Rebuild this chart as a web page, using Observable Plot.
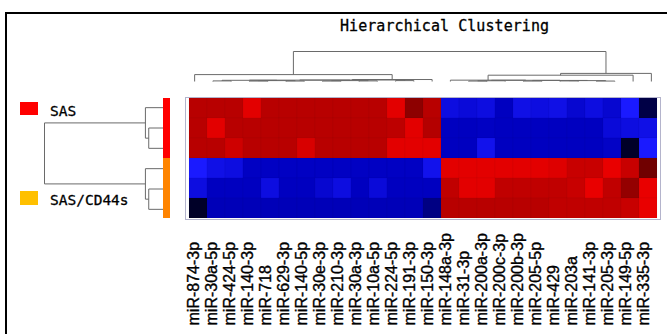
<!DOCTYPE html>
<html>
<head>
<meta charset="utf-8">
<script src="https://cdn.jsdelivr.net/npm/d3@7"></script>
<script src="https://cdn.jsdelivr.net/npm/@observablehq/plot@0.6"></script>
<style>
  html, body { margin: 0; padding: 0; background: #fff; }
  #chart { position: relative; width: 667px; height: 334px; overflow: hidden; background: #fff; }
  #chart svg { position: absolute; left: 0; top: 0; }
  .frame { position: absolute; left: 5px; top: 12px; width: 720px; height: 400px; border: 2px solid #000; box-sizing: border-box; }
  .title { position: absolute; left: 340px; top: 19px; font-family: "DejaVu Sans Mono", monospace; font-size: 15px; line-height: 15px; letter-spacing: 0.06px; color: #000; white-space: nowrap; -webkit-text-stroke: 0.3px #000; }
  .sw { position: absolute; left: 20px; width: 18px; }
  .lt { position: absolute; left: 50px; font-family: "DejaVu Sans Mono", monospace; font-size: 14.5px; line-height: 14.5px; color: #000; white-space: nowrap; -webkit-text-stroke: 0.3px #000; }
</style>
</head>
<body>
<div id="chart">
  <div class="frame"></div>
</div>
<script>
// ---- data ----
const columns = ["miR-874-3p","miR-30a-5p","miR-424-5p","miR-140-3p","miR-718","miR-629-3p","miR-140-5p","miR-30e-3p","miR-210-3p","miR-30a-3p","miR-10a-5p","miR-224-5p","miR-191-3p","miR-150-3p","miR-148a-3p","miR-31-3p","miR-200a-3p","miR-200c-3p","miR-200b-3p","miR-205-5p","miR-429","miR-203a","miR-141-3p","miR-205-3p","miR-149-5p","miR-335-3p"];
const samples = ["SAS-1","SAS-2","SAS-3","SAS/CD44s-1","SAS/CD44s-2","SAS/CD44s-3"];
const sampleGroups = ["SAS","SAS","SAS","SAS/CD44s","SAS/CD44s","SAS/CD44s"];
const groupNames = ["SAS","SAS/CD44s"];
const groupBarColors = ["#ff0000","#ff8400"];
const legendColors = ["#ff0000","#ffc000"];

const valuesSAS1 = [2.0,2.0,2.0,1.2,2.0,2.0,2.0,2.0,2.0,2.0,2.0,1.2,2.6,2.0,-1.5,-1.6,-1.5,-2.0,-1.4,-1.5,-1.4,-1.75,-1.5,-1.75,-1.0,-2.8];
const valuesSAS2 = [2.0,1.2,2.0,2.0,2.0,2.0,2.0,2.0,2.0,2.0,2.0,1.9,1.2,2.05,-2.0,-2.0,-1.95,-2.0,-2.0,-2.0,-2.0,-2.0,-2.0,-1.6,-1.5,-1.4];
const valuesSAS3 = [2.0,2.0,1.6,2.0,2.0,2.0,1.4,2.0,2.0,2.0,2.0,1.2,1.2,1.2,-2.0,-2.0,-1.3,-2.0,-2.0,-2.0,-2.0,-2.0,-2.0,-1.9,-3.0,-1.0];
const valuesCD1  = [-1.0,-1.4,-1.5,-1.95,-1.95,-1.95,-1.95,-1.95,-1.95,-1.95,-1.95,-1.95,-1.95,-1.3,1.2,1.2,1.2,1.2,1.2,1.2,1.3,1.7,1.7,1.1,1.7,3.0];
const valuesCD2  = [-1.5,-2.0,-2.0,-2.0,-1.5,-2.0,-2.0,-1.75,-1.5,-2.0,-1.6,-2.0,-2.0,-2.0,1.85,1.2,1.2,1.85,1.85,1.85,1.85,1.7,1.1,1.85,2.5,1.1];
const valuesCD3  = [-3.0,-2.05,-2.05,-2.05,-2.05,-2.05,-2.05,-2.05,-2.05,-2.05,-2.05,-2.05,-2.05,-2.4,2.0,2.0,2.0,2.0,2.0,2.0,1.85,1.85,1.85,1.85,1.7,1.1];

const colorStops = [-3,-2,-1,1,2,3];
const colorRange = ["#000028","#0000c0","#1a1aff","#ee0000","#b80000","#700000"];

// column dendrogram merges: [node, childA, childB, height]; numbers are column indices
const colTree = [
  ["l1",1,2,0.2],["l2",3,4,0.15],["l3",5,6,0.15],["l4","l2","l3",0.3],["l5","l1","l4",0.4],
  ["l6",7,8,0.15],["l7",9,10,0.2],["l8","l6","l7",0.3],["l9","l5","l8",0.45],
  ["l10",11,12,0.3],["l11","l9","l10",0.5],["L1","l11",13,0.66],["L",0,"L1",2.3],
  ["r1",15,16,0.15],["r2","r1",17,0.25],["r3",18,19,0.15],["r4",20,21,0.2],["r5",22,23,0.15],
  ["r6","r4","r5",0.3],["r7","r3","r6",0.35],["r8","r2","r7",0.4],["R2",14,"r8",0.45],
  ["R1","R2",24,2.1],["R","R1",25,2.7],["root","L","R",10]
];
// row dendrogram merges; numbers are sample indices
const rowTree = [["a",1,2,1.24],["b",0,"a",1.52],["c",4,5,1.24],["d",3,"c",1.52],["root","b","d",10]];

// ---- build ----
const valueRows = [valuesSAS1,valuesSAS2,valuesSAS3,valuesCD1,valuesCD2,valuesCD3];
const cells = samples.flatMap((s,i) => columns.map((c,j) => ({sample:s, mir:c, z:valueRows[i][j]})));

function treeSegments(tree) {
  const pos = new Map();
  const get = k => typeof k === "number" ? {p:k, h:0} : pos.get(k);
  const segs = [];
  for (const [name,a,b,h] of tree) {
    const A = get(a), B = get(b);
    segs.push({p1:A.p, h1:h, p2:B.p, h2:h});
    segs.push({p1:A.p, h1:A.h, p2:A.p, h2:h});
    segs.push({p1:B.p, h1:B.h, p2:B.p, h2:h});
    pos.set(name, {p:(A.p+B.p)/2, h});
  }
  return segs;
}
const colSegs = treeSegments(colTree);
const rowSegs = treeSegments(rowTree);

const W = 667, H = 334;
const common = {width:W, height:H, style:{background:"transparent"}};
const chart = document.getElementById("chart");

const heat = Plot.plot({
  ...common,
  marginLeft:185, marginRight:7, marginTop:97, marginBottom:115,
  x:{type:"band", domain:columns, padding:0, axis:null},
  y:{type:"band", domain:samples, padding:0, axis:null},
  color:{type:"linear", domain:colorStops, range:colorRange, interpolate:"rgb"},
  marks:[
    Plot.cell(cells, {x:"mir", y:"sample", fill:"z", inset:0, stroke:"#000", strokeOpacity:0.06, strokeWidth:0.6}),
    Plot.frame({stroke:"#b4b4cc", strokeWidth:1}),
    Plot.text(columns, {x:d=>d, frameAnchor:"bottom", dy:106, rotate:-90, textAnchor:"start",
      fontSize:16, fontFamily:"Liberation Sans, Arial, sans-serif", fill:"#000", stroke:"#000", strokeWidth:0.35})
  ]
});

const colDendro = Plot.plot({
  ...common,
  marginLeft:185, marginRight:7, marginTop:51, marginBottom:253,
  x:{domain:[-0.5, columns.length-0.5], axis:null},
  y:{domain:[0,10], axis:null},
  marks:[Plot.link(colSegs, {x1:"p1", y1:"h1", x2:"p2", y2:"h2", stroke:"#6a6a6a", strokeWidth:1})]
});

const rowDendro = Plot.plot({
  ...common,
  marginLeft:44, marginRight:504, marginTop:97, marginBottom:115,
  x:{domain:[0,10], reverse:true, axis:null},
  y:{domain:[-0.5, samples.length-0.5], reverse:true, axis:null},
  marks:[Plot.link(rowSegs, {x1:"h1", y1:"p1", x2:"h2", y2:"p2", stroke:"#6a6a6a", strokeWidth:1})]
});

const groupBar = Plot.plot({
  ...common,
  marginLeft:163, marginRight:497, marginTop:97, marginBottom:115,
  x:{type:"band", domain:["group"], padding:0, axis:null},
  y:{type:"band", domain:samples, padding:0, axis:null},
  color:{domain:groupNames, range:groupBarColors},
  marks:[Plot.cell(samples, {x:()=>"group", y:d=>d, fill:(d,i)=>sampleGroups[i], inset:0})]
});

for (const p of [heat, colDendro, rowDendro, groupBar]) chart.appendChild(p);

// title and legend
const title = document.createElement("div");
title.className = "title";
title.textContent = "Hierarchical Clustering";
chart.appendChild(title);

const legendTops = [101.7, 191];
const legendTextTops = [103.5, 193];
groupNames.forEach((g,i) => {
  const sw = document.createElement("div");
  sw.className = "sw";
  sw.style.top = legendTops[i] + "px";
  sw.style.height = "13.5px";
  sw.style.background = legendColors[i];
  chart.appendChild(sw);
  const t = document.createElement("div");
  t.className = "lt";
  t.style.top = legendTextTops[i] + "px";
  t.textContent = g;
  chart.appendChild(t);
});
</script>
</body>
</html>
